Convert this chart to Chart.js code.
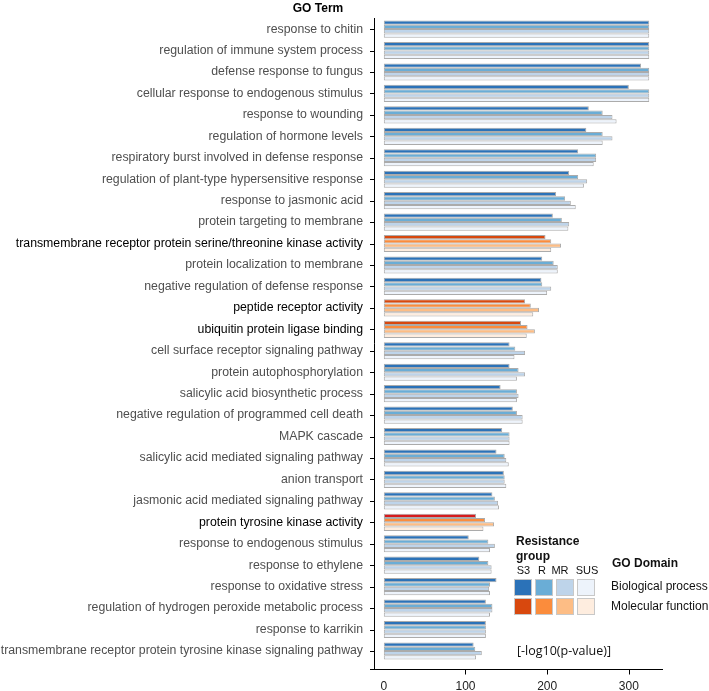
<!DOCTYPE html>
<html>
<head>
<meta charset="utf-8">
<script src="https://cdn.jsdelivr.net/npm/chart.js@4.4.1/dist/chart.umd.min.js"></script>
<style>
  html, body { margin: 0; padding: 0; background: #fff; }
  #wrap { width: 709px; height: 691px; }
</style>
</head>
<body>
<div id="wrap"><canvas id="goChart" width="709" height="691"></canvas></div>
<script>
const terms = [
  'response to chitin',
  'regulation of immune system process',
  'defense response to fungus',
  'cellular response to endogenous stimulus',
  'response to wounding',
  'regulation of hormone levels',
  'respiratory burst involved in defense response',
  'regulation of plant-type hypersensitive response',
  'response to jasmonic acid',
  'protein targeting to membrane',
  'transmembrane receptor protein serine/threonine kinase activity',
  'protein localization to membrane',
  'negative regulation of defense response',
  'peptide receptor activity',
  'ubiquitin protein ligase binding',
  'cell surface receptor signaling pathway',
  'protein autophosphorylation',
  'salicylic acid biosynthetic process',
  'negative regulation of programmed cell death',
  'MAPK cascade',
  'salicylic acid mediated signaling pathway',
  'anion transport',
  'jasmonic acid mediated signaling pathway',
  'protein tyrosine kinase activity',
  'response to endogenous stimulus',
  'response to ethylene',
  'response to oxidative stress',
  'regulation of hydrogen peroxide metabolic process',
  'response to karrikin',
  'transmembrane receptor protein tyrosine kinase signaling pathway'
];

// GO domain of each term: BP = biological process, MF = molecular function
const domains = ['BP','BP','BP','BP','BP','BP','BP','BP','BP','BP',
                 'MF','BP','BP','MF','MF','BP','BP','BP','BP','BP',
                 'BP','BP','BP','MF','BP','BP','BP','BP','BP','BP'];

const groups = ['S3', 'R', 'MR', 'SUS'];

// -log10(p-value) per resistance group
const s3Values  = [325,325,315,300,251,248,238,227,211,207,198,194,193,173,168,154,154,143,158,145,138,147,133,113,104,117,138,125,125,110];
const rValues   = [325,325,325,325,268,268,260,238,222,218,205,208,194,180,176,161,165,163,163,154,148,148,136,124,128,128,130,133,125,112];
const mrValues  = [325,325,325,325,280,280,260,249,229,227,217,213,205,190,185,173,173,165,170,154,150,148,140,135,136,132,129,133,125,120];
const susValues = [325,325,325,325,285,268,257,245,235,226,205,213,200,183,175,160,163,163,170,154,153,150,141,122,130,132,130,130,125,113];

const xTicks = [0, 100, 200, 300];

const bpColors = ['#2b72b8', '#6aadd6', '#bed4ea', '#edf3fb'];
const mfColors = ['#d8480e', '#fb8c3c', '#fdbd85', '#feeddf'];
const specialRed = '#d61a1c'; // S3 bar of protein tyrosine kinase activity

const seriesData = [s3Values, rValues, mrValues, susValues];

function barColor(groupIdx) {
  return ctx => {
    const i = ctx.dataIndex;
    if (domains[i] === 'MF') {
      if (groupIdx === 0 && terms[i] === 'protein tyrosine kinase activity') return specialRed;
      return mfColors[groupIdx];
    }
    return bpColors[groupIdx];
  };
}

const AXIS_X = 374.5;
const AXIS_Y = 669.5;
const FONT = '"Liberation Sans", Arial, sans-serif';

const decorations = {
  id: 'decorations',
  afterDraw(chart) {
    const c = chart.ctx;
    const xs = chart.scales.x;
    const ys = chart.scales.y;
    c.save();
    // title
    c.fillStyle = '#000';
    c.font = 'bold 12px ' + FONT;
    c.textAlign = 'center';
    c.textBaseline = 'middle';
    c.fillText('GO Term', 318, 9);

    // axis lines
    c.strokeStyle = '#000';
    c.lineWidth = 1;
    c.beginPath();
    c.moveTo(AXIS_X, 18);
    c.lineTo(AXIS_X, AXIS_Y);
    c.moveTo(370, AXIS_Y);
    c.lineTo(663, AXIS_Y);
    // y ticks
    terms.forEach((t, i) => {
      const y = Math.round(ys.getPixelForValue(i)) + 0.5;
      c.moveTo(370, y);
      c.lineTo(AXIS_X, y);
    });
    // x ticks
    xTicks.forEach(v => {
      if (v === 0) return;
      const x = Math.round(xs.getPixelForValue(v)) + 0.5;
      c.moveTo(x, AXIS_Y);
      c.lineTo(x, AXIS_Y + 5);
    });
    c.stroke();

    // legend
    c.textAlign = 'left';
    c.fillStyle = '#111';
    c.font = 'bold 12px ' + FONT;
    c.fillText('Resistance', 516, 542);
    c.fillText('group', 516, 557);
    c.fillText('GO Domain', 612, 564);

    c.font = '11px ' + FONT;
    c.textAlign = 'center';
    const labelX = [523.5, 542, 560, 587];
    groups.forEach((g, k) => c.fillText(g, labelX[k], 571));

    const boxX = [514, 535, 556, 577];
    const rowY = [579, 598];
    [bpColors, mfColors].forEach((pal, r) => {
      pal.forEach((col, k) => {
        c.fillStyle = col;
        c.fillRect(boxX[k], rowY[r], 18, 17);
        c.strokeStyle = '#c8c8c8';
        c.strokeRect(boxX[k] + 0.5, rowY[r] + 0.5, 17, 16);
      });
    });

    c.fillStyle = '#111';
    c.textAlign = 'left';
    c.font = '12px ' + FONT;
    c.fillText('Biological process', 611, 587);
    c.fillText('Molecular function', 611, 607);

    c.font = '12.5px "Open Sans", "DejaVu Sans", sans-serif';
    c.fillText('[-log10(p-value)]', 517, 651);
    c.restore();
  }
};

new Chart(document.getElementById('goChart'), {
  type: 'bar',
  data: {
    labels: terms,
    datasets: groups.map((g, k) => ({
      label: g,
      data: seriesData[k],
      backgroundColor: barColor(k),
      borderColor: '#ababab',
      borderWidth: 1,
      borderSkipped: false,
      barPercentage: 1,
      categoryPercentage: 0.8
    }))
  },
  options: {
    indexAxis: 'y',
    responsive: false,
    animation: false,
    devicePixelRatio: 1,
    layout: { padding: { top: 18.3, right: 47.5, bottom: 0, left: 0 } },
    plugins: {
      legend: { display: false },
      tooltip: { enabled: false },
      title: { display: false }
    },
    scales: {
      x: {
        type: 'linear',
        min: -12,
        max: 340,
        afterBuildTicks: scale => { scale.ticks = xTicks.map(v => ({ value: v })); },
        afterFit: scale => { scale.height = 29.3; },
        grid: { display: false, drawTicks: false },
        border: { display: false },
        ticks: {
          padding: 18,
          color: '#222',
          font: { family: FONT, size: 12 }
        }
      },
      y: {
        type: 'category',
        afterFit: scale => { scale.width = 374; },
        grid: { display: false, drawTicks: false },
        border: { display: false },
        ticks: {
          padding: 11,
          autoSkip: false,
          color: ctx => domains[ctx.index] === 'MF' ? '#000' : '#4f4f4f',
          font: { family: FONT, size: 12.3 }
        }
      }
    }
  },
  plugins: [decorations]
});
</script>
</body>
</html>
